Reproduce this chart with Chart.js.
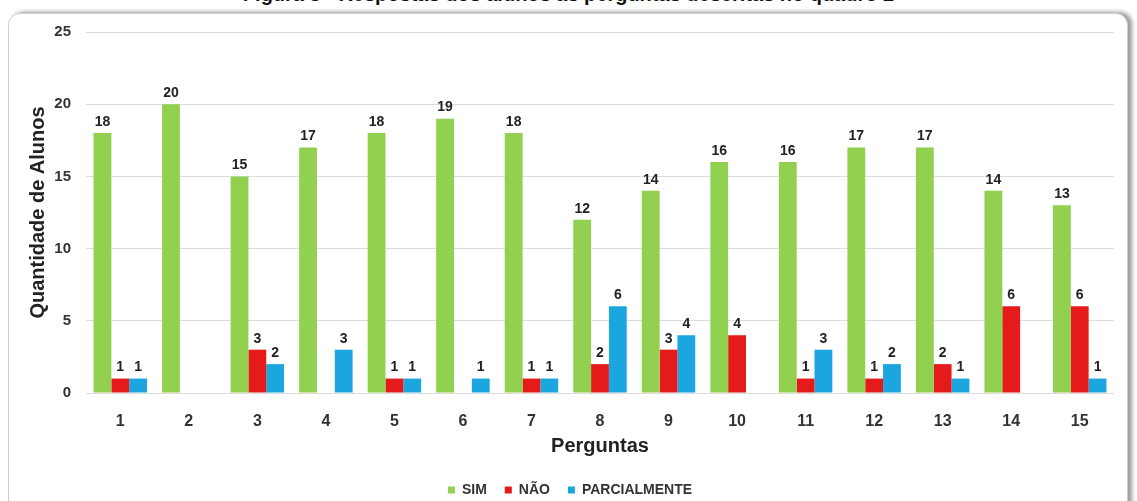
<!DOCTYPE html>
<html>
<head>
<meta charset="utf-8">
<script src="https://cdn.jsdelivr.net/npm/chart.js@4"></script>
<style>
    html, body { margin: 0; padding: 0; background: #fff; }
    #wrap { position: relative; width: 1137px; height: 501px; overflow: hidden; }
    #caption {
        position: absolute; left: 0; top: -17px; width: 1137px; text-align: center;
        font: bold 20px "Liberation Sans", Arial, sans-serif; color: #111;
    }
    #frame {
        position: absolute; left: 8px; top: 13px; width: 1118px; height: 520px;
        border: 1px solid #d0d0d0; border-radius: 12px; background: #fff;
        box-shadow: 4px -1px 4px rgba(0, 0, 0, 0.4);
    }
    #chartBox { position: absolute; left: 0; top: 0; width: 1137px; height: 501px; }
</style>
</head>
<body>
<div id="wrap">
    <div id="caption">Figura 3 - Respostas dos alunos às perguntas descritas no quadro 2</div>
    <div id="frame"></div>
    <div id="chartBox"><canvas id="grafico" width="1137" height="501"></canvas></div>
</div>
<script>
// dados
var perguntas = ["1", "2", "3", "4", "5", "6", "7", "8", "9", "10", "11", "12", "13", "14", "15"];
var sim = [18, 20, 15, 17, 18, 19, 18, 12, 14, 16, 16, 17, 17, 14, 13];
var nao = [1, 0, 3, 0, 1, 0, 1, 2, 3, 4, 1, 1, 2, 6, 6];
var parcialmente = [1, 0, 2, 3, 1, 1, 1, 6, 4, 0, 3, 2, 1, 0, 1];
var yTicks = [0, 5, 10, 15, 20, 25];

var FONT = '"Liberation Sans", Arial, sans-serif';
var grafico;

// escreve o valor em cima de cada barra (zeros ficam sem rótulo)
var valueLabels = {
    id: 'valueLabels',
    afterDatasetsDraw: function (chart) {
        var ctx = chart.ctx;
        ctx.save();
        ctx.font = 'bold 14px ' + FONT;
        ctx.fillStyle = '#222';
        ctx.textAlign = 'center';
        ctx.textBaseline = 'bottom';
        chart.data.datasets.forEach(function (ds, i) {
            chart.getDatasetMeta(i).data.forEach(function (bar, j) {
                var v = ds.data[j];
                if (!v) return;
                ctx.fillText(v, bar.x, bar.y - 4);
            });
        });
        ctx.restore();
    }
};

window.onload = function () {
    initChart();
}

function initChart() {
    var ctx = document.getElementById('grafico');
    grafico = new Chart(ctx, {
        type: 'bar',
        data: {
            labels: perguntas,
            datasets: [{
                label: "SIM",
                data: sim,
                backgroundColor: "#92D050"
            }, {
                label: "NÃO",
                data: nao,
                backgroundColor: "#E51B1B"
            }, {
                label: "PARCIALMENTE",
                data: parcialmente,
                backgroundColor: "#1CA6E0"
            }]
        },
        options: {
            responsive: false,
            animation: false,
            layout: {
                padding: { left: 26, right: 23, top: 32, bottom: -6 }
            },
            datasets: {
                bar: { barPercentage: 1.0, categoryPercentage: 0.78 }
            },
            plugins: {
                tooltip: { enabled: false },
                legend: {
                    position: 'bottom',
                    labels: {
                        boxWidth: 7,
                        boxHeight: 7,
                        padding: 18,
                        color: '#333',
                        font: { family: FONT, size: 14, weight: 'bold' }
                    }
                }
            },
            scales: {
                x: {
                    grid: { display: false },
                    border: { display: false },
                    ticks: {
                        color: '#333',
                        padding: 11,
                        font: { family: FONT, size: 16, weight: 'bold' }
                    },
                    title: {
                        display: true,
                        text: 'Perguntas',
                        color: '#222',
                        padding: { top: 0, bottom: 7 },
                        font: { family: FONT, size: 20, weight: 'bold' }
                    },
                    afterFit: function (scale) { scale.height = 72; }
                },
                y: {
                    min: 0,
                    max: 25,
                    afterBuildTicks: function (scale) {
                        scale.ticks = yTicks.map(function (v) { return { value: v }; });
                    },
                    grid: { color: '#dcdcdc', drawTicks: false },
                    border: { display: false },
                    ticks: {
                        color: '#333',
                        padding: 15,
                        font: { family: FONT, size: 15, weight: 'bold' }
                    },
                    title: {
                        display: true,
                        text: 'Quantidade de Alunos',
                        color: '#222',
                        padding: 0,
                        font: { family: FONT, size: 20, weight: 'bold' }
                    },
                    afterFit: function (scale) { scale.width = 60; }
                }
            }
        },
        plugins: [valueLabels]
    });
}
</script>
</body>
</html>
